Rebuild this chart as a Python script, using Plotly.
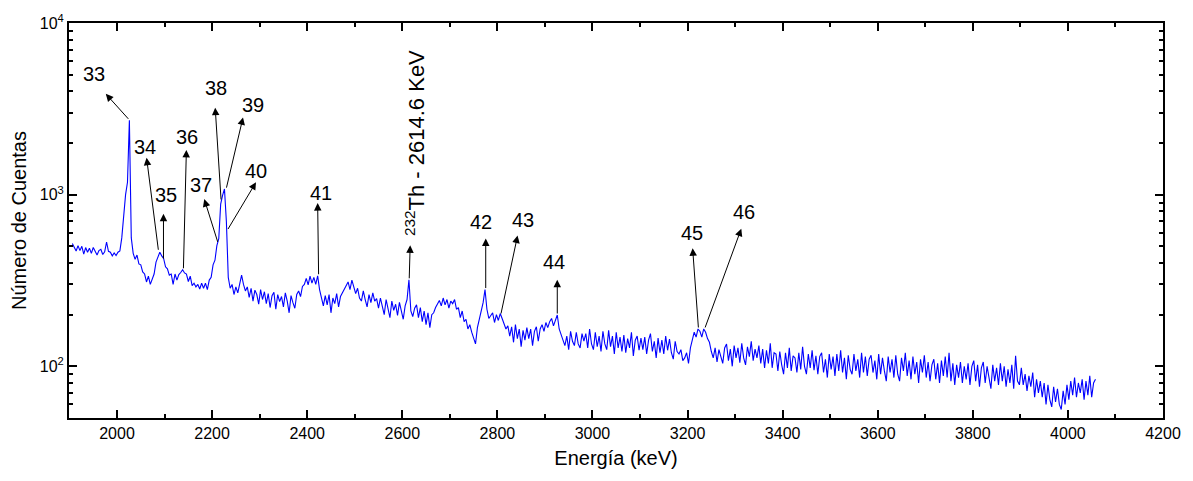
import math
import plotly.graph_objects as go

# ---- spectrum data (4 keV grid starting at 1906 keV) ----
E_START = 1906
E_STEP = 4
counts = [
    520, 495, 470, 505, 472, 500, 450, 492, 462, 488,   # 1906
    455, 492, 468, 445, 472, 480, 448, 465, 530, 468,   # 1946
    462, 440, 458, 442, 462, 470, 560, 780, 1000, 1180, # 1986
    2710, 560, 455, 420, 445, 395, 390, 355, 345, 310,  # 2026
    335, 300, 325, 345, 405, 440, 462, 440, 425, 380,   # 2066
    370, 340, 345, 300, 345, 318, 342, 352, 365, 350,   # 2106
    345, 312, 335, 295, 305, 290, 300, 282, 305, 285,   # 2146
    305, 280, 318, 330, 390, 415, 505, 555, 880, 990,   # 2186
    1080, 700, 330, 285, 300, 262, 290, 268, 310, 340,  # 2226
    300, 275, 290, 252, 285, 240, 278, 262, 230, 280,   # 2266
    245, 272, 232, 265, 220, 258, 270, 215, 262, 238,   # 2306
    255, 222, 268, 240, 205, 258, 235, 218, 262, 275,   # 2346
    255, 292, 300, 325, 298, 335, 305, 330, 300, 337,   # 2386
    280, 250, 225, 258, 228, 262, 205, 250, 232, 265,   # 2426
    222, 255, 268, 282, 295, 310, 280, 318, 290, 265,   # 2466
    285, 250, 240, 275, 245, 222, 262, 235, 268, 240,   # 2506
    248, 218, 250, 225, 200, 245, 215, 192, 240, 212,   # 2546
    230, 198, 236, 210, 188, 225, 245, 319, 210, 195,   # 2586
    218, 228, 192, 220, 182, 210, 175, 205, 168, 200,   # 2626
    205, 220, 232, 242, 225, 250, 228, 245, 218, 240,   # 2666
    232, 245, 215, 220, 192, 210, 182, 188, 165, 175,   # 2706
    158, 145, 135, 168, 190, 205, 235, 280, 215, 190,   # 2746
    198, 205, 180, 200, 185, 203, 190, 178, 165, 172,   # 2786
    150, 170, 138, 175, 145, 165, 130, 162, 142, 168,   # 2826
    145, 165, 132, 160, 170, 140, 165, 175, 160, 180,   # 2866
    168, 182, 190, 172, 188, 199, 165, 155, 142, 132,   # 2906
    150, 125, 160, 140, 132, 158, 135, 128, 155, 140,   # 2946
    155, 128, 165, 135, 125, 158, 130, 150, 122, 160,   # 2986
    135, 125, 162, 130, 150, 118, 158, 128, 148, 122,   # 3026
    152, 120, 145, 128, 158, 115, 142, 150, 124, 146,   # 3066
    125, 148, 118, 142, 155, 122, 140, 112, 146, 120,   # 3106
    142, 118, 150, 124, 144, 120, 110, 140, 122, 118,   # 3146
    125, 108, 112, 120, 104, 128, 140, 158, 148, 165,   # 3186
    160, 148, 165, 158, 145, 138, 122, 112, 128, 106,   # 3226
    125, 112, 104, 128, 135, 108, 126, 100, 132, 112,   # 3266
    128, 105, 136, 112, 102, 130, 114, 140, 108, 126,   # 3306
    112, 132, 104, 126, 98, 124, 104, 136, 98, 120,     # 3346
    118, 94, 122, 102, 90, 120, 98, 128, 94, 115,       # 3386
    112, 92, 120, 96, 130, 100, 90, 118, 98, 124,       # 3426
    95, 115, 90, 114, 120, 92, 110, 86, 118, 96,        # 3466
    114, 88, 118, 94, 124, 92, 112, 84, 116, 96,        # 3506
    90, 118, 94, 110, 86, 120, 92, 114, 88, 110,        # 3546
    116, 92, 108, 84, 118, 90, 112, 94, 82, 114,        # 3586
    92, 110, 86, 116, 90, 82, 112, 94, 120, 88,         # 3626
    108, 84, 114, 90, 106, 80, 110, 92, 116, 86,        # 3666
    106, 82, 102, 110, 84, 104, 80, 108, 88, 114,       # 3706
    86, 120, 82, 104, 78, 102, 86, 106, 80, 100,        # 3746
    84, 104, 78, 100, 108, 82, 102, 76, 98, 106,        # 3786
    80, 100, 84, 74, 102, 82, 98, 78, 104, 82,          # 3826
    100, 76, 96, 80, 102, 74, 115, 82, 78, 98,          # 3866
    78, 90, 72, 88, 76, 92, 66, 84, 70, 82,             # 3906
    66, 80, 60, 78, 64, 58, 76, 62, 74, 60,             # 3946
    56, 72, 60, 78, 64, 82, 68, 86, 66, 80,             # 3986
    70, 84, 64, 82, 68, 88, 66, 80, 84,                 # 4026
]
energies = [E_START + E_STEP * i for i in range(len(counts))]

# ---- peak annotations: label, base (on spectrum), arrow head, label position ----
peak_labels = ["33", "34", "35", "36", "37", "38", "39", "40", "41",
               "42", "43", "44", "45", "46"]
base_E = [2026.6, 2087.3, 2097.7, 2139.6, 2212.8, 2219, 2229.5, 2231.6, 2424,
          2775.5, 2807, 2926, 3223, 3235.8]
base_C = [2710, 468, 416, 365, 520, 919, 1077, 618, 337,
          280, 199, 199, 165, 165]
head_E = [1976.4, 2062.2, 2097.7, 2145.9, 2183.5, 2206.5, 2265, 2292.3, 2422,
          2775.5, 2842.5, 2926, 3210.7, 3313]
head_C = [3865, 1641, 773, 1823, 942, 3213, 2818, 1181, 893,
          556, 578, 319, 487, 634]
label_E = [1951.3, 2058, 2104, 2148, 2177, 2208.6, 2286, 2292, 2428,
           2765, 2853, 2920, 3208.6, 3319]
label_C = [5035, 1897, 993, 2161, 1133, 4188, 3343, 1381, 1021,
           695, 714, 405, 601, 794]

th_text = "<sup>232</sup>Th - 2614.6 KeV"
th_base = (2614.5, 319)
th_head = (2616.6, 507)
th_label = (2627, 2000)

x_range = [1899, 4200]
y_range = [50, 10000]
y_tickvals = [100, 1000, 10000]
y_ticktext = ["10<sup>2</sup>", "10<sup>3</sup>", "10<sup>4</sup>"]
y_minor = [60, 70, 80, 90] + [k * 100 for k in range(2, 10)] + [k * 1000 for k in range(2, 10)]

FONT = "Liberation Sans, Arial, sans-serif"

fig = go.Figure()
fig.add_trace(go.Scatter(x=energies, y=counts, mode="lines",
                         line=dict(color="#0000FF", width=1.1),
                         showlegend=False, hoverinfo="skip"))

annotations = []
for lab, bx, bc, hx, hc, lx, lc in zip(peak_labels, base_E, base_C, head_E, head_C, label_E, label_C):
    annotations.append(dict(x=hx, y=math.log10(hc), ax=bx, ay=math.log10(bc),
                            xref="x", yref="y", axref="x", ayref="y",
                            text="", showarrow=True, arrowhead=2, arrowsize=1.5,
                            arrowwidth=1, arrowcolor="black"))
    annotations.append(dict(x=lx, y=math.log10(lc), xref="x", yref="y",
                            text=lab, showarrow=False,
                            font=dict(family=FONT, size=20, color="black")))

annotations.append(dict(x=th_head[0], y=math.log10(th_head[1]), ax=th_base[0], ay=math.log10(th_base[1]),
                        xref="x", yref="y", axref="x", ayref="y",
                        text="", showarrow=True, arrowhead=2, arrowsize=1.5,
                        arrowwidth=1, arrowcolor="black"))
annotations.append(dict(x=th_label[0], y=math.log10(th_label[1]), xref="x", yref="y",
                        text=th_text, textangle=-90, showarrow=False,
                        font=dict(family=FONT, size=22, color="black")))

fig.update_layout(
    width=1193, height=481,
    margin=dict(l=69, r=24, t=16, b=63),
    paper_bgcolor="white", plot_bgcolor="white",
    font=dict(family=FONT, color="black"),
    annotations=annotations,
    xaxis=dict(
        range=x_range, dtick=200, tick0=2000,
        showgrid=False, zeroline=False,
        showline=True, linecolor="black", linewidth=2, mirror="allticks",
        ticks="inside", ticklen=8, tickwidth=1.5, tickcolor="black",
        minor=dict(ticks="inside", ticklen=4, tickwidth=1.5, dtick=100, tickcolor="black", showgrid=False),
        tickfont=dict(family=FONT, size=16, color="black"),
        title=dict(text="Energía (keV)", font=dict(family=FONT, size=20, color="black"), standoff=10),
    ),
    yaxis=dict(
        type="log", range=[math.log10(y_range[0]), math.log10(y_range[1])],
        tickmode="array", tickvals=y_tickvals, ticktext=y_ticktext,
        showgrid=False, zeroline=False,
        showline=True, linecolor="black", linewidth=2, mirror="allticks",
        ticks="inside", ticklen=8, tickwidth=1.5, tickcolor="black",
        minor=dict(ticks="inside", ticklen=4, tickwidth=1.5, tickmode="array",
                   tickvals=y_minor, tickcolor="black", showgrid=False),
        tickfont=dict(family=FONT, size=16, color="black"),
        title=dict(text="Número de Cuentas", font=dict(family=FONT, size=20, color="black"), standoff=8),
    ),
)

fig.write_html("out.html")
